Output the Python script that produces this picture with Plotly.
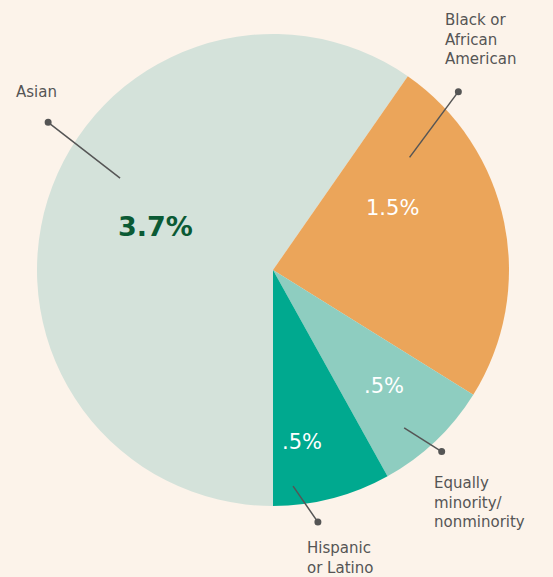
import numpy as np
import plotly.graph_objects as go

groups = ['Asian', 'Black or African American', 'Equally minority/nonminority', 'Hispanic or Latino']
shares = [3.7, 1.5, 0.5, 0.5]
value_labels = ['3.7%', '1.5%', '.5%', '.5%']
name_labels = ['Asian', 'Black or<br>African<br>American', 'Equally<br>minority/<br>nonminority', 'Hispanic<br>or Latino']
colors = ['#d4e2da', '#eba55a', '#8ecdc0', '#00a98f']

W, H = 553, 577
cx, cy, R = 273, 270, 236
bg = '#fcf3ea'
ink = '#555555'
font = 'DejaVu Sans'

fig = go.Figure()
fig.add_trace(go.Pie(
    labels=groups, values=shares, sort=False, direction='clockwise', rotation=180,
    marker=dict(colors=colors, line=dict(width=0)),
    textinfo='none', hoverinfo='label+value', showlegend=False,
    domain=dict(x=[(cx - R) / W, (cx + R) / W], y=[1 - (cy + R) / H, 1 - (cy - R) / H]),
))

# slice angles (clockwise from 12 o'clock), derived from the data
frac = np.array(shares) / sum(shares)
start = 180 + 360 * np.concatenate([[0], np.cumsum(frac)[:-1]])
mids = start + 180 * frac

def pt(ang, r):
    a = np.radians(ang)
    return cx + r * R * np.sin(a), cy - r * R * np.cos(a)

# value labels inside the slices
val_pos = [(mids[0] + 3, 0.53), (mids[1] - 16, 0.57), (mids[2], 0.68), (mids[3] + 5, 0.74)]
val_style = [dict(size=27, color='#0b5a34', weight='bold'), dict(size=21, color='white'),
             dict(size=21, color='white'), dict(size=21, color='white')]
annotations = []
for txt, (ang, r), st in zip(value_labels, val_pos, val_style):
    x, y = pt(ang, r)
    annotations.append(dict(x=x, y=y, xref='x', yref='y', text=txt, showarrow=False,
                            font=dict(family=font, **st)))

# leader lines with dots, drawn above the pie
shapes = []
lines = [((301, 0.756), (303.3, 1.14)), ((50.5, 0.75), (46.1, 1.09)),
         ((140.3, 0.87), (137.1, 1.05)), ((174.7, 0.92), (169.9, 1.085))]
for (a1, r1), (a2, r2) in lines:
    x1, y1 = pt(a1, r1)
    x2, y2 = pt(a2, r2)
    shapes.append(dict(type='line', x0=x1, y0=y1, x1=x2, y1=y2, xref='x', yref='y',
                       line=dict(color=ink, width=1.5), layer='above'))
    shapes.append(dict(type='circle', x0=x2 - 3.5, y0=y2 - 3.5, x1=x2 + 3.5, y1=y2 + 3.5,
                       xref='x', yref='y', fillcolor=ink, line=dict(width=0), layer='above'))

# category names
name_pos = [(14, 92, 'middle'), (443, 9, 'top'), (432, 472, 'top'), (305, 537, 'top')]
for txt, (x, y, va) in zip(name_labels, name_pos):
    annotations.append(dict(x=x, y=y, xref='x', yref='y', text=txt, showarrow=False,
                            xanchor='left', yanchor=va, align='left',
                            font=dict(family=font, size=15, color=ink)))

fig.update_layout(
    width=W, height=H, margin=dict(l=0, r=0, t=0, b=0),
    paper_bgcolor=bg, plot_bgcolor='rgba(0,0,0,0)',
    xaxis=dict(range=[0, W], visible=False, fixedrange=True),
    yaxis=dict(range=[H, 0], visible=False, fixedrange=True),
    annotations=annotations, shapes=shapes,
)

fig.write_html("out.html", config={'displayModeBar': False},
               post_script="document.body.style.margin='0';")
